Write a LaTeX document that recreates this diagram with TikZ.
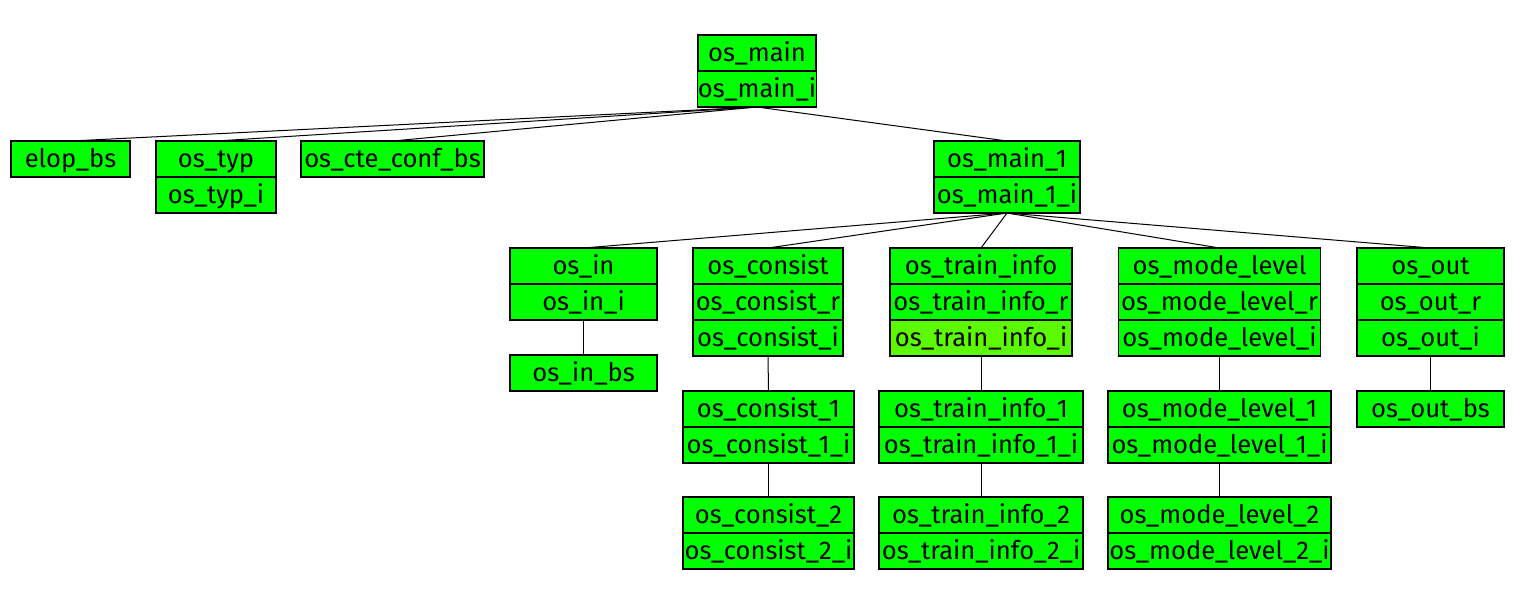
\documentclass[tikz,border=0pt]{standalone}
\usepackage{fontspec}
\setmainfont{Fira Sans}
\usetikzlibrary{positioning}
\definecolor{recgreen}{RGB}{0,255,0}
\definecolor{recgreenlt}{RGB}{92,250,0}

\tikzset{
  field/.style={draw, fill=recgreen, outer sep=0pt, inner sep=0pt,
    minimum height=18pt, text height=10.3pt, text depth=1.7pt,
    line width=0.6pt, font=\fontsize{12.8}{14}\selectfont},
  link/.style={draw, line width=0.5pt}
}

\begin{document}
\begin{tikzpicture}[x=0.5pt, y=-0.5pt]
    \useasboundingbox (0,0) rectangle (1516,602);

    % top record
    \node[field, minimum width=59pt, anchor=north] (osmain) at (757,35) {os\_main};
    \node[field, minimum width=59pt, below=0pt of osmain] (osmaini) {os\_main\_i};

    % second level
    \node[field, minimum width=59.5pt, anchor=north] (elopbs) at (70.5,141) {elop\_bs};
    \node[field, minimum width=60pt, anchor=north] (ostyp) at (216,141) {os\_typ};
    \node[field, minimum width=60pt, below=0pt of ostyp] (ostypi) {os\_typ\_i};
    \node[field, minimum width=91.5pt, anchor=north] (osconf) at (392.5,141) {os\_cte\_conf\_bs};
    \node[field, minimum width=73pt, anchor=north] (osmainone) at (1007,141) {os\_main\_1};
    \node[field, minimum width=73pt, below=0pt of osmainone] (osmainonei) {os\_main\_1\_i};

    % third level
    \node[field, minimum width=73.5pt, anchor=north] (osin) at (583.5,248) {os\_in};
    \node[field, minimum width=73.5pt, below=0pt of osin] (osini) {os\_in\_i};
    \node[field, minimum width=73.5pt, anchor=north] (osinbs) at (583.5,355) {os\_in\_bs};

    \node[field, minimum width=75pt, anchor=north] (oscons) at (768,248) {os\_consist};
    \node[field, minimum width=75pt, below=0pt of oscons] (osconsr) {os\_consist\_r};
    \node[field, minimum width=75pt, below=0pt of osconsr] (osconsi) {os\_consist\_i};

    \node[field, minimum width=91pt, anchor=north] (ostrain) at (981,248) {os\_train\_info};
    \node[field, minimum width=91pt, below=0pt of ostrain] (ostrainr) {os\_train\_info\_r};
    \node[field, minimum width=91pt, below=0pt of ostrainr, fill=recgreenlt] (ostraini) {os\_train\_info\_i};

    \node[field, minimum width=101pt, anchor=north] (osmode) at (1219.5,248) {os\_mode\_level};
    \node[field, minimum width=101pt, below=0pt of osmode] (osmoder) {os\_mode\_level\_r};
    \node[field, minimum width=101pt, below=0pt of osmoder] (osmodei) {os\_mode\_level\_i};

    \node[field, minimum width=73.5pt, anchor=north] (osout) at (1430.5,248) {os\_out};
    \node[field, minimum width=73.5pt, below=0pt of osout] (osoutr) {os\_out\_r};
    \node[field, minimum width=73.5pt, below=0pt of osoutr] (osouti) {os\_out\_i};
    \node[field, minimum width=73.5pt, anchor=north] (osoutbs) at (1430.5,391) {os\_out\_bs};

    % lower levels
    \node[field, minimum width=85.5pt, anchor=north] (osconsone) at (768.5,391) {os\_consist\_1};
    \node[field, minimum width=85.5pt, below=0pt of osconsone] (osconsonei) {os\_consist\_1\_i};
    \node[field, minimum width=85.5pt, anchor=north] (osconstwo) at (768.5,497) {os\_consist\_2};
    \node[field, minimum width=85.5pt, below=0pt of osconstwo] (osconstwoi) {os\_consist\_2\_i};

    \node[field, minimum width=102pt, anchor=north] (ostrainone) at (981,391) {os\_train\_info\_1};
    \node[field, minimum width=102pt, below=0pt of ostrainone] (ostrainonei) {os\_train\_info\_1\_i};
    \node[field, minimum width=102pt, anchor=north] (ostraintwo) at (981,497) {os\_train\_info\_2};
    \node[field, minimum width=102pt, below=0pt of ostraintwo] (ostraintwoi) {os\_train\_info\_2\_i};

    \node[field, minimum width=111.5pt, anchor=north] (osmodeone) at (1219.5,391) {os\_mode\_level\_1};
    \node[field, minimum width=111.5pt, below=0pt of osmodeone] (osmodeonei) {os\_mode\_level\_1\_i};
    \node[field, minimum width=111.5pt, anchor=north] (osmodetwo) at (1219.5,497) {os\_mode\_level\_2};
    \node[field, minimum width=111.5pt, below=0pt of osmodetwo] (osmodetwoi) {os\_mode\_level\_2\_i};

    % connectors
    \foreach \c in {elopbs,ostyp,osconf,osmainone}
        \draw[link] (osmaini.south) -- (\c.north);
    \foreach \c in {osin,oscons,ostrain,osmode,osout}
        \draw[link] (osmainonei.south) -- (\c.north);
    \draw[link] (osini.south) -- (osinbs.north);
    \draw[link] (osconsi.south) -- (osconsone.north);
    \draw[link] (osconsonei.south) -- (osconstwo.north);
    \draw[link] (ostraini.south) -- (ostrainone.north);
    \draw[link] (ostrainonei.south) -- (ostraintwo.north);
    \draw[link] (osmodei.south) -- (osmodeone.north);
    \draw[link] (osmodeonei.south) -- (osmodetwo.north);
    \draw[link] (osouti.south) -- (osoutbs.north);
\end{tikzpicture}
\end{document}
